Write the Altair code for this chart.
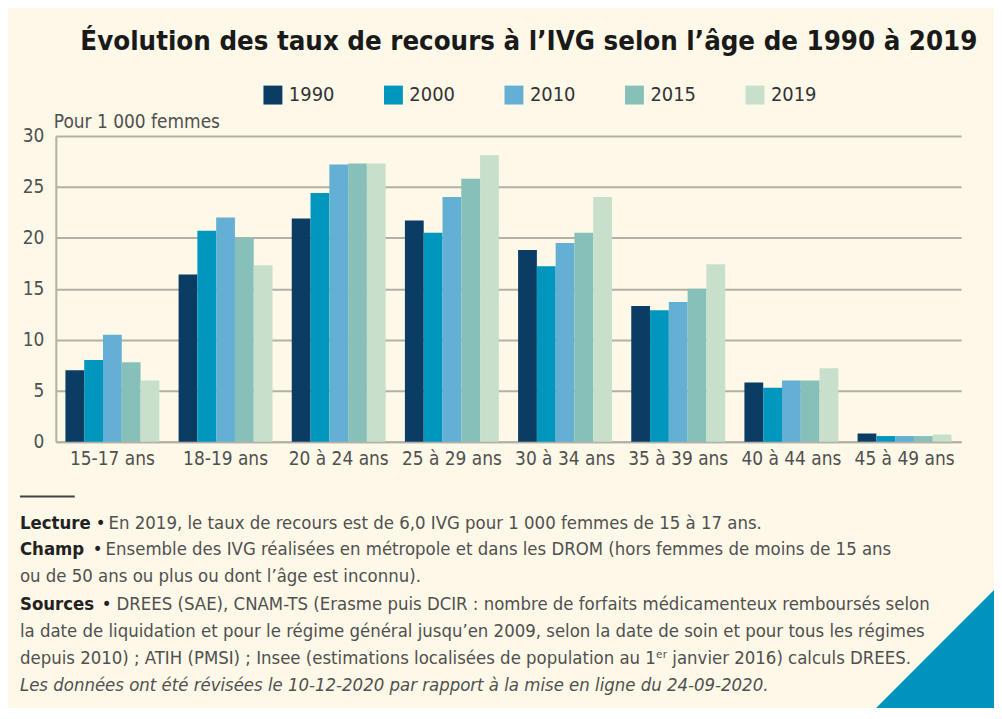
import altair as alt
import pandas as pd

# ---------------- data ----------------
ages = ["15-17 ans", "18-19 ans", "20 à 24 ans", "25 à 29 ans",
        "30 à 34 ans", "35 à 39 ans", "40 à 44 ans", "45 à 49 ans"]
years = ["1990", "2000", "2010", "2015", "2019"]
v1990 = [7.0, 16.4, 21.9, 21.7, 18.8, 13.3, 5.8, 0.8]
v2000 = [8.0, 20.7, 24.4, 20.5, 17.2, 12.9, 5.3, 0.55]
v2010 = [10.5, 22.0, 27.2, 24.0, 19.5, 13.7, 6.0, 0.55]
v2015 = [7.8, 20.0, 27.3, 25.8, 20.5, 15.0, 6.0, 0.55]
v2019 = [6.0, 17.3, 27.3, 28.1, 24.0, 17.4, 7.2, 0.7]
colors = ["#0b3c64", "#0096bd", "#64b0d4", "#87c0b9", "#c8dfcb"]

title_text = ["Évolution des taux de recours à l’IVG selon l’âge de 1990 à 2019"]
unit_text = ["Pour 1 000 femmes"]
note_bold = ["Lecture", "Champ", "Sources"]
note_bullets = ["•", "•", "•"]
note_rest = [
    "En 2019, le taux de recours est de 6,0 IVG pour 1 000 femmes de 15 à 17 ans.",
    "Ensemble des IVG réalisées en métropole et dans les DROM (hors femmes de moins de 15 ans",
    "DREES (SAE), CNAM-TS (Erasme puis DCIR : nombre de forfaits médicamenteux remboursés selon",
]
note_cont = [
    "ou de 50 ans ou plus ou dont l’âge est inconnu).",
    "la date de liquidation et pour le régime général jusqu’en 2009, selon la date de soin et pour tous les régimes",
    "depuis 2010) ; ATIH (PMSI) ; Insee (estimations localisées de population au 1ᵉʳ janvier 2016) calculs DREES.",
]
note_italic = ["Les données ont été révisées le 10-12-2020 par rapport à la mise en ligne du 24-09-2020."]

rows = []
for y, vals in zip(years, [v1990, v2000, v2010, v2015, v2019]):
    for a, v in zip(ages, vals):
        rows.append({"age": a, "annee": y, "taux": v})
df = pd.DataFrame(rows)

FONT = "'DejaVu Sans Condensed', Roboto, sans-serif"
GREY = "#505050"
BG = "#fdf8e7"

# ---------------- layout (plot area) ----------------
W, H = 909, 307
TOTAL_W, TOTAL_H = 990, 700
PAD_L, PAD_T = 48, 127

bars = alt.Chart(df).mark_bar(stroke=None).encode(
    x=alt.X("age:N", sort=ages, title=None,
            scale=alt.Scale(paddingInner=0.17, paddingOuter=0.085),
            axis=alt.Axis(labelAngle=0, labelFontSize=19, labelColor=GREY, labelFont=FONT,
                          ticks=False, domain=True, domainColor="#b3b0a6", domainWidth=2,
                          labelPadding=8)),
    xOffset=alt.XOffset("annee:N", sort=years, scale=alt.Scale(paddingInner=0, paddingOuter=0)),
    y=alt.Y("taux:Q", title=None, scale=alt.Scale(domain=[0, 30], nice=False),
            axis=alt.Axis(values=[0, 5, 10, 15, 20, 25, 30], labelFontSize=19, labelColor=GREY,
                          labelFont=FONT, ticks=False, labelPadding=12, domain=True,
                          domainColor="#b3b0a6", domainWidth=2, grid=True,
                          gridColor="#b3b0a6", gridWidth=2)),
    color=alt.Color("annee:N", sort=years, scale=alt.Scale(domain=years, range=colors),
                    legend=alt.Legend(title=None, orient="none", direction="horizontal",
                                      legendX=208, legendY=-51, symbolType="square",
                                      symbolSize=361, symbolStrokeWidth=0, symbolOpacity=1,
                                      labelFontSize=20, labelFont=FONT, labelColor="#333333",
                                      labelOffset=6, columnPadding=49, padding=0)),
)


def lines_layer(lines, xs, ys, size, color, weight="normal", style="normal", align="left"):
    layers = []
    for t, x, y in zip(lines, xs, ys):
        d = pd.DataFrame({"t": [t]})
        layers.append(alt.Chart(d).mark_text(
            align=align, baseline="alphabetic", font=FONT, fontSize=size, color=color,
            fontWeight=weight, fontStyle=style,
        ).encode(x=alt.value(x), y=alt.value(y), text="t:N"))
    return layers


title = lines_layer(title_text, [475], [-86], 27.5, "#1a1a1a", weight="bold", align="center")
unit = lines_layer(unit_text, [-2], [-8], 19, GREY)

# footnotes (baselines relative to plot top)
NS = 18.5
bold_notes = lines_layer(note_bold, [-36, -36, -36], [395, 421, 476], NS, "#222222", weight="bold")
bullets = lines_layer(note_bullets, [45, 42, 51], [395, 421, 476], NS, "#222222", align="center")
rest_notes = lines_layer(note_rest, [53, 50, 61], [395, 421, 476], NS, GREY)
cont_notes = lines_layer(note_cont, [-36, -36, -36], [448, 503, 530], NS, GREY)
ital_notes = lines_layer(note_italic, [-36], [557], NS, GREY, style="italic")

sep = alt.Chart(pd.DataFrame({"k": [0]})).mark_rule(color="#444444", strokeWidth=2).encode(
    x=alt.value(-36), x2=alt.value(19), y=alt.value(362))

tri = alt.Chart(pd.DataFrame({"k": [0]})).mark_point(
    shape="M 1 -1 L 1 1 L -1 1 Z", filled=True, color="#0093bd", opacity=1, strokeWidth=0,
    size=132 * 132).encode(x=alt.value(880), y=alt.value(518))

chart = alt.layer(
    tri, bars, *title, *unit, sep, *bold_notes, *bullets, *rest_notes, *cont_notes, *ital_notes
).properties(
    width=W, height=H,
    autosize=alt.AutoSizeParams(type="none"),
    padding={"left": PAD_L, "top": PAD_T, "right": TOTAL_W - PAD_L - W,
             "bottom": TOTAL_H - PAD_T - H},
    background=BG,
).configure_view(stroke=None)

chart.save("out.html", embed_options={"renderer": "svg", "actions": False})
